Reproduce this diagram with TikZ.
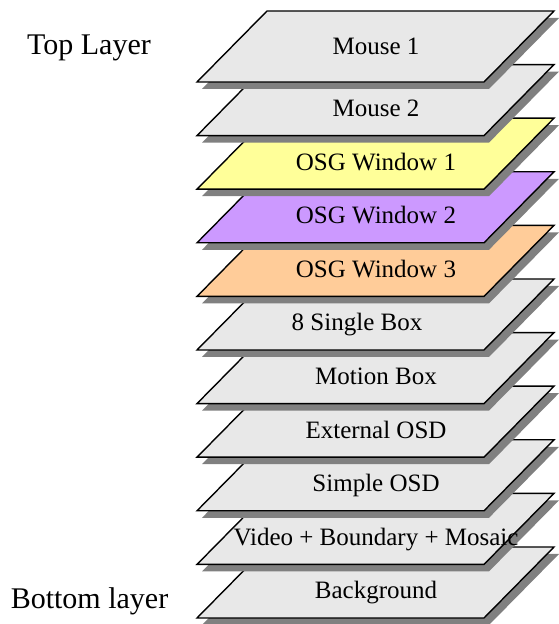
\documentclass[tikz,border=0pt]{standalone}
\usepackage{fontspec}
\setmainfont{Liberation Serif}
\usepackage{tikz}
\definecolor{sheetgray}{HTML}{E8E8E8}
\definecolor{shadowgray}{HTML}{808080}
\definecolor{osgyellow}{HTML}{FFFF99}
\definecolor{osgpurple}{HTML}{CC99FF}
\definecolor{osgorange}{HTML}{FFCC99}

\begin{document}
\begin{tikzpicture}[x=1pt,y=1pt,
  sheet/.style={draw=black,line width=1.4pt,line join=miter,fill=sheetgray},
  sheetshade/.style={fill=shadowgray,xshift=5pt,yshift=-7pt},
  sheettext/.style={anchor=base,inner sep=0pt,font=\fontsize{25}{28}\selectfont},
  sidetext/.style={anchor=base,inner sep=0pt,font=\fontsize{30}{34}\selectfont}]
\useasboundingbox (0,0) rectangle (559,624);

\fill[sheetshade] (197,6) -- ++(287,0) -- ++(70,71) -- ++(-287,0) -- cycle;
\filldraw[sheet] (197,6) -- ++(287,0) -- ++(70,71) -- ++(-287,0) -- cycle;
\node[sheettext] (bg) at (376,25) {Background};

\fill[sheetshade] (197,59.6) -- ++(287,0) -- ++(70,71) -- ++(-287,0) -- cycle;
\filldraw[sheet] (197,59.6) -- ++(287,0) -- ++(70,71) -- ++(-287,0) -- cycle;
\node[sheettext] (video) at (376,78.6) {Video + Boundary + Mosaic};

\fill[sheetshade] (197,113.2) -- ++(287,0) -- ++(70,71) -- ++(-287,0) -- cycle;
\filldraw[sheet] (197,113.2) -- ++(287,0) -- ++(70,71) -- ++(-287,0) -- cycle;
\node[sheettext] (simple) at (376,132.2) {Simple OSD};

\fill[sheetshade] (197,166.8) -- ++(287,0) -- ++(70,71) -- ++(-287,0) -- cycle;
\filldraw[sheet] (197,166.8) -- ++(287,0) -- ++(70,71) -- ++(-287,0) -- cycle;
\node[sheettext] (external) at (376,185.8) {External OSD};

\fill[sheetshade] (197,220.4) -- ++(287,0) -- ++(70,71) -- ++(-287,0) -- cycle;
\filldraw[sheet] (197,220.4) -- ++(287,0) -- ++(70,71) -- ++(-287,0) -- cycle;
\node[sheettext] (motion) at (376,239.4) {Motion Box};

\fill[sheetshade] (197,274) -- ++(287,0) -- ++(70,71) -- ++(-287,0) -- cycle;
\filldraw[sheet] (197,274) -- ++(287,0) -- ++(70,71) -- ++(-287,0) -- cycle;
\node[sheettext] (single) at (357,293) {8 Single Box};

\fill[sheetshade] (197,327.6) -- ++(287,0) -- ++(70,71) -- ++(-287,0) -- cycle;
\filldraw[sheet,fill=osgorange] (197,327.6) -- ++(287,0) -- ++(70,71) -- ++(-287,0) -- cycle;
\node[sheettext] (osg3) at (376,346.6) {OSG Window 3};

\fill[sheetshade] (197,381.2) -- ++(287,0) -- ++(70,71) -- ++(-287,0) -- cycle;
\filldraw[sheet,fill=osgpurple] (197,381.2) -- ++(287,0) -- ++(70,71) -- ++(-287,0) -- cycle;
\node[sheettext] (osg2) at (376,400.2) {OSG Window 2};

\fill[sheetshade] (197,434.8) -- ++(287,0) -- ++(70,71) -- ++(-287,0) -- cycle;
\filldraw[sheet,fill=osgyellow] (197,434.8) -- ++(287,0) -- ++(70,71) -- ++(-287,0) -- cycle;
\node[sheettext] (osg1) at (376,453.8) {OSG Window 1};

\fill[sheetshade] (197,488.4) -- ++(287,0) -- ++(70,71) -- ++(-287,0) -- cycle;
\filldraw[sheet] (197,488.4) -- ++(287,0) -- ++(70,71) -- ++(-287,0) -- cycle;
\node[sheettext] (mouse2) at (376,507.4) {Mouse 2};

\fill[sheetshade] (197,542) -- ++(287,0) -- ++(70,71) -- ++(-287,0) -- cycle;
\filldraw[sheet] (197,542) -- ++(287,0) -- ++(70,71) -- ++(-287,0) -- cycle;
\node[sheettext] (mouse1) at (376,569) {Mouse 1};

\node[sidetext] (top) at (89,569) {Top Layer};
\node[sidetext] (bottom) at (89.5,16) {Bottom layer};

\end{tikzpicture}
\end{document}
